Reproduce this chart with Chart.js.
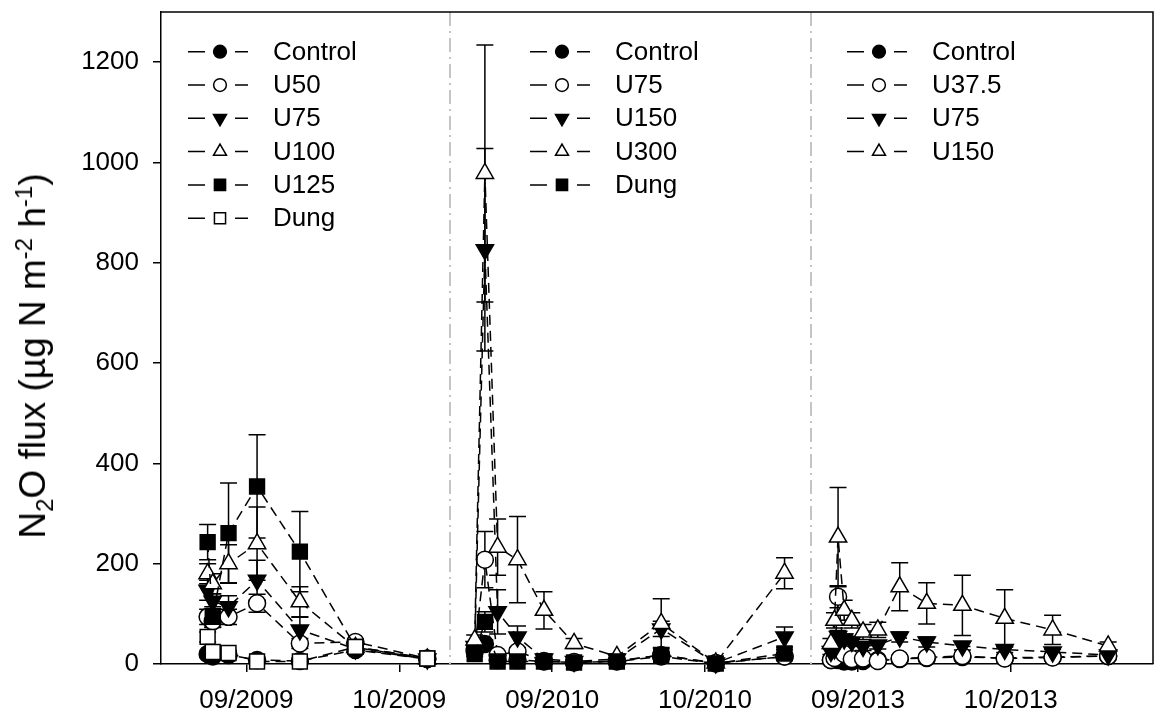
<!DOCTYPE html>
<html>
<head>
<meta charset="utf-8">
<script src="https://cdn.jsdelivr.net/npm/chart.js@4.4.0/dist/chart.umd.min.js"></script>
<style>
  body { margin: 0; background: #fff; }
  #wrap { position: relative; width: 1165px; height: 720px; }
  #ytitle {
    position: absolute; left: 33px; top: 356px;
    transform: translate(-50%, -50%) rotate(-90deg);
    white-space: nowrap; font: 37px "Liberation Sans", Arial, sans-serif; color: #000;
  }
  #ytitle sub, #ytitle sup { font-size: 24px; line-height: 0; }
</style>
</head>
<body>
<div id="wrap">
  <canvas id="fluxChart" width="1165" height="720"></canvas>
  <div id="ytitle">N<sub>2</sub>O flux (µg N m<sup>-2</sup> h<sup>-1</sup>)</div>
</div>
<script>
// x axis is in days; each season is placed from its own 1 September
const xTickDays = [0, 30, 60, 90, 120, 150];
const xTickLabels = ['09/2009', '10/2009', '09/2010', '10/2010', '09/2013', '10/2013'];
const yTicks = [0, 200, 400, 600, 800, 1000, 1200];
const panelStart = [0, 60, 120];
const panelBreaks = [40, 110.7];

// 2009
const days2009 = [-7.6, -6.6, -3.5, 2.1, 10.5, 21.4, 35.5];
const control2009 = [20, 15, 18, 8, 6, 28, 10];
const control2009Err = [5, 4, 5, 2, 2, 5, 2];
const u50_2009 = [94, 85, 94, 121, 41, 44, 11];
const u50_2009Err = [15, 12, 15, 18, 10, 6, 3];
const u75_2009 = [147, 125, 114, 167, 68, 30, 10];
const u75_2009Err = [20, 15, 22, 40, 25, 5, 2];
const u100_2009 = [180, 160, 200, 240, 124, 33, 10];
const u100_2009Err = [20, 20, 38, 73, 30, 5, 2];
const u125_2009 = [243, 94, 261, 354, 224, 34, 11];
const u125_2009Err = [35, 20, 100, 103, 80, 6, 2];
const dung2009 = [54, 24, 22, 5, 5, 34, 11];
const dung2009Err = [10, 5, 5, 3, 3, 5, 2];

// 2010
const days2010 = [-15.2, -13.2, -10.7, -6.8, -1.6, 4.3, 12.7, 21.4, 32.1, 45.6];
const control2010 = [25, 40, 8, 8, 5, 3, 5, 15, 1, 15];
const control2010Err = [6, 8, 3, 3, 2, 1, 2, 5, 0.5, 4];
const u75_2010 = [30, 208, 18, 25, 6, 4, 6, 18, 2, 15];
const u75_2010Err = [6, 56, 5, 8, 2, 1, 2, 5, 1, 4];
const u150_2010 = [35, 826, 104, 54, 10, 5, 10, 70, 2, 54];
const u150_2010Err = [8, 202, 44, 22, 4, 2, 3, 15, 1, 20];
const u300_2010 = [48, 978, 233, 208, 107, 41, 15, 81, 2, 181];
const u300_2010Err = [10, 256, 56, 86, 37, 10, 4, 49, 1, 31];
const dung2010 = [20, 84, 5, 5, 5, 3, 5, 18, 1, 21];
const dung2010Err = [5, 20, 2, 2, 2, 1, 2, 5, 0.5, 8];

// 2013
const days2013 = [-5.3, -4.6, -3.9, -2.7, -1.2, 1.0, 3.9, 8.2, 13.5, 20.5, 28.8, 38.2, 49.1];
const control2013 = [8, 10, 8, 5, 5, 6, 8, 10, 12, 14, 12, 14, 16];
const control2013Err = [3, 3, 3, 2, 2, 2, 2, 3, 3, 3, 3, 3, 3];
const u37_2013 = [8, 12, 134, 20, 10, 11, 6, 11, 13, 16, 11, 13, 16];
const u37_2013Err = [3, 4, 22, 6, 4, 3, 2, 3, 3, 4, 3, 3, 3];
const u75_2013 = [25, 30, 55, 50, 45, 35, 38, 54, 44, 36, 29, 24, 18];
const u75_2013Err = [6, 8, 12, 10, 10, 8, 8, 10, 10, 8, 6, 5, 4];
const u150_2013 = [41, 87, 253, 107, 87, 64, 68, 154, 121, 117, 91, 68, 36];
const u150_2013Err = [10, 15, 99, 20, 15, 15, 15, 48, 41, 60, 57, 29, 8];

const FONT = '"Liberation Sans", Arial, sans-serif';

const markers = {
    filledCircle: { pointStyle: 'circle', pointRadius: 8.5, pointBackgroundColor: '#000', pointRotation: 0 },
    openCircle: { pointStyle: 'circle', pointRadius: 8.5, pointBackgroundColor: '#fff', pointRotation: 0 },
    filledDown: { pointStyle: 'triangle', pointRadius: 10, pointBackgroundColor: '#000', pointRotation: 180 },
    openUp: { pointStyle: 'triangle', pointRadius: 10, pointBackgroundColor: '#fff', pointRotation: 0 },
    filledSquare: { pointStyle: 'rect', pointRadius: 10.5, pointBackgroundColor: '#000', pointRotation: 0 },
    openSquare: { pointStyle: 'rect', pointRadius: 10.5, pointBackgroundColor: '#fff', pointRotation: 0 }
};

function makeSet(label, panel, days, values, errs, marker) {
    return Object.assign({
        label: label,
        panel: panel,
        err: errs,
        data: days.map((d, i) => ({ x: panelStart[panel] + d, y: values[i] })),
        borderColor: '#000',
        borderWidth: 1.5,
        borderDash: [10, 6],
        pointBorderColor: '#000',
        pointBorderWidth: 1.5,
        tension: 0,
        clip: false
    }, marker);
}

const datasets = [
    makeSet('Control', 0, days2009, control2009, control2009Err, markers.filledCircle),
    makeSet('U50', 0, days2009, u50_2009, u50_2009Err, markers.openCircle),
    makeSet('U75', 0, days2009, u75_2009, u75_2009Err, markers.filledDown),
    makeSet('U100', 0, days2009, u100_2009, u100_2009Err, markers.openUp),
    makeSet('U125', 0, days2009, u125_2009, u125_2009Err, markers.filledSquare),
    makeSet('Dung', 0, days2009, dung2009, dung2009Err, markers.openSquare),

    makeSet('Control', 1, days2010, control2010, control2010Err, markers.filledCircle),
    makeSet('U75', 1, days2010, u75_2010, u75_2010Err, markers.openCircle),
    makeSet('U150', 1, days2010, u150_2010, u150_2010Err, markers.filledDown),
    makeSet('U300', 1, days2010, u300_2010, u300_2010Err, markers.openUp),
    makeSet('Dung', 1, days2010, dung2010, dung2010Err, markers.filledSquare),

    makeSet('Control', 2, days2013, control2013, control2013Err, markers.filledCircle),
    makeSet('U37.5', 2, days2013, u37_2013, u37_2013Err, markers.openCircle),
    makeSet('U75', 2, days2013, u75_2013, u75_2013Err, markers.filledDown),
    makeSet('U150', 2, days2013, u150_2013, u150_2013Err, markers.openUp)
];
// later treatments are drawn over earlier ones
datasets.forEach((ds, i) => { ds.order = datasets.length - i; });

// error bars, panel separators and the frame
const decorations = {
    id: 'decorations',
    beforeDatasetsDraw(chart) {
        const { ctx, chartArea, scales: { x, y } } = chart;
        ctx.save();
        // separators
        ctx.strokeStyle = '#c4c4c4';
        ctx.lineWidth = 2;
        ctx.setLineDash([14, 5, 2, 5]);
        panelBreaks.forEach(b => {
            const px = Math.round(x.getPixelForValue(b));
            ctx.beginPath();
            ctx.moveTo(px, chartArea.top);
            ctx.lineTo(px, chartArea.bottom);
            ctx.stroke();
        });
        ctx.setLineDash([]);
        // error bars
        ctx.strokeStyle = '#000';
        ctx.lineWidth = 1.5;
        chart.data.datasets.forEach(ds => {
            ds.data.forEach((p, i) => {
                const e = ds.err[i];
                if (!e) return;
                const px = x.getPixelForValue(p.x);
                const top = y.getPixelForValue(p.y + e);
                const bot = y.getPixelForValue(Math.max(0, p.y - e));
                ctx.beginPath();
                ctx.moveTo(px, top); ctx.lineTo(px, bot);
                ctx.moveTo(px - 8.5, top); ctx.lineTo(px + 8.5, top);
                ctx.moveTo(px - 8.5, bot); ctx.lineTo(px + 8.5, bot);
                ctx.stroke();
            });
        });
        ctx.restore();
    },
    afterDraw(chart) {
        const { ctx, chartArea } = chart;
        ctx.save();
        ctx.strokeStyle = '#000';
        ctx.lineWidth = 1.5;
        ctx.beginPath();
        ctx.moveTo(chartArea.left, chartArea.top);
        ctx.lineTo(chartArea.right, chartArea.top);
        ctx.lineTo(chartArea.right, chartArea.bottom);
        ctx.stroke();

        // one legend per season
        const legendX = [220, 562, 879];
        const counts = [0, 0, 0];
        chart.data.datasets.forEach(ds => {
            const cx = legendX[ds.panel];
            const cy = 51.7 + counts[ds.panel] * 33.3;
            counts[ds.panel]++;
            ctx.strokeStyle = '#000';
            ctx.lineWidth = 1.5;
            ctx.beginPath();
            ctx.moveTo(cx - 32, cy); ctx.lineTo(cx - 15, cy);
            ctx.moveTo(cx + 15, cy); ctx.lineTo(cx + 28, cy);
            ctx.stroke();
            ctx.fillStyle = ds.pointBackgroundColor;
            Chart.helpers.drawPoint(ctx, {
                pointStyle: ds.pointStyle,
                radius: ds.pointRadius * 0.75,
                rotation: ds.pointRotation,
                borderWidth: 1.5
            }, cx, cy);
            ctx.fillStyle = '#000';
            ctx.font = '26px ' + FONT;
            ctx.textAlign = 'left';
            ctx.textBaseline = 'middle';
            ctx.fillText(ds.label, cx + 53, cy + 1);
        });
        ctx.restore();
    }
};

const axisStyle = {
    grid: { display: true, drawOnChartArea: false, drawTicks: true, tickLength: 8, color: '#000', lineWidth: 1.5 },
    border: { display: true, color: '#000', width: 1.5 }
};

new Chart(document.getElementById('fluxChart').getContext('2d'), {
    type: 'line',
    data: { datasets: datasets },
    options: {
        responsive: false,
        animation: false,
        devicePixelRatio: 1,
        layout: { padding: { top: 9.5, right: 5, left: 0, bottom: 0 } },
        plugins: { legend: { display: false }, tooltip: { enabled: false } },
        scales: {
            x: Object.assign({
                type: 'linear',
                min: -16.75,
                max: 177.9,
                afterFit: s => { s.height = 56; s.paddingLeft = 0; s.paddingRight = 0; },
                afterBuildTicks: s => { s.ticks = xTickDays.map(v => ({ value: v })); },
                ticks: {
                    autoSkip: false, maxRotation: 0, padding: 13, color: '#000',
                    font: { family: FONT, size: 26 },
                    callback: v => xTickLabels[xTickDays.indexOf(v)]
                }
            }, axisStyle),
            y: Object.assign({
                type: 'linear',
                min: 0,
                max: 1300,
                afterFit: s => { s.width = 161; s.paddingTop = 0; s.paddingBottom = 0; },
                afterBuildTicks: s => { s.ticks = yTicks.map(v => ({ value: v })); },
                ticks: {
                    padding: 14, color: '#000', font: { family: FONT, size: 26 },
                    callback: v => String(v)
                }
            }, axisStyle)
        }
    },
    plugins: [decorations]
});
</script>
</body>
</html>
